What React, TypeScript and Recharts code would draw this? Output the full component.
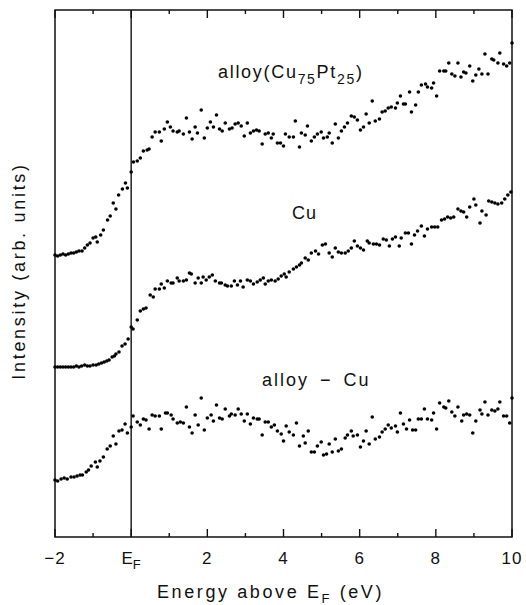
import React from 'react';
import { ScatterChart, Scatter, XAxis, YAxis, ReferenceLine, ReferenceArea } from 'recharts';

// photoemission-like spectra, energies in eV, intensities in arb. units
const alloyEnergy = [
  -2.0, -1.93, -1.86, -1.79, -1.72, -1.65, -1.58, -1.51, -1.44, -1.37, -1.29, -1.22, -1.15, -1.08, -1.0, -0.93, -0.89,
  -0.8, -0.73, -0.62, -0.55, -0.47, -0.4, -0.33, -0.23, -0.15, -0.1, 0.0, 0.06, 0.16, 0.24, 0.32, 0.42, 0.47, 0.55,
  0.63, 0.74, 0.79, 0.87, 0.95, 1.03, 1.1, 1.21, 1.26, 1.37, 1.45, 1.53, 1.6, 1.68, 1.74, 1.84, 1.92, 2.0, 2.08, 2.16,
  2.24, 2.32, 2.39, 2.47, 2.58, 2.65, 2.73, 2.81, 2.89, 2.97, 3.05, 3.13, 3.21, 3.29, 3.36, 3.44, 3.52, 3.6, 3.68,
  3.73, 3.84, 3.92, 4.0, 4.05, 4.15, 4.26, 4.31, 4.42, 4.47, 4.57, 4.63, 4.73, 4.81, 4.89, 4.99, 5.05, 5.15, 5.2,
  5.28, 5.36, 5.44, 5.52, 5.6, 5.68, 5.78, 5.86, 5.94, 6.02, 6.1, 6.17, 6.25, 6.33, 6.41, 6.52, 6.59, 6.67, 6.75,
  6.83, 6.94, 6.99, 7.07, 7.15, 7.2, 7.31, 7.36, 7.47, 7.54, 7.62, 7.73, 7.78, 7.89, 7.94, 8.02, 8.1, 8.21, 8.26,
  8.34, 8.42, 8.5, 8.58, 8.66, 8.73, 8.79, 8.89, 8.97, 9.05, 9.13, 9.21, 9.29, 9.37, 9.47, 9.52, 9.63, 9.68, 9.78,
  9.86, 9.94, 10.0,
];
const alloyIntensity = [
  282, 281, 282, 283, 282, 283, 284, 284, 285, 286, 286, 289, 292, 294, 299, 300, 295,
  302, 307, 317, 321, 334, 328, 342, 348, 354, 349, 365, 375, 376, 379, 386, 387, 388, 400,
  405, 405, 396, 408, 415, 410, 406, 405, 406, 403, 419, 405, 398, 410, 404, 427, 399, 409, 415, 410,
  422, 408, 406, 414, 408, 409, 413, 414, 411, 401, 414, 404, 406, 407, 406, 393, 403, 404, 399,
  403, 394, 394, 391, 403, 400, 400, 416, 390, 404, 402, 411, 396, 400, 403, 405, 399, 400, 404,
  394, 413, 399, 406, 410, 414, 421, 420, 417, 407, 410, 423, 414, 436, 416, 418, 425, 426, 429,
  430, 429, 434, 441, 433, 433, 445, 425, 432, 445, 452, 453, 450, 449, 454, 441, 466, 466, 466,
  474, 463, 461, 474, 460, 465, 464, 471, 456, 462, 468, 463, 483, 463, 478, 477, 474, 484, 473,
  471, 474, 494,
];

const cuEnergy = [
  -2.0, -1.93, -1.86, -1.79, -1.72, -1.65, -1.58, -1.51, -1.44, -1.37, -1.3, -1.22, -1.15, -1.08, -1.0, -0.92, -0.85,
  -0.78, -0.71, -0.64, -0.58, -0.5, -0.44, -0.4, -0.32, -0.24, -0.16, -0.08, 0.0, 0.05, 0.16, 0.24, 0.32, 0.39, 0.5,
  0.58, 0.63, 0.74, 0.79, 0.87, 0.95, 1.05, 1.1, 1.21, 1.26, 1.37, 1.45, 1.53, 1.58, 1.68, 1.76, 1.84, 1.89, 1.97,
  2.05, 2.13, 2.21, 2.32, 2.37, 2.47, 2.53, 2.63, 2.71, 2.79, 2.87, 2.94, 3.05, 3.13, 3.21, 3.31, 3.39, 3.47, 3.52,
  3.6, 3.68, 3.78, 3.86, 3.94, 4.02, 4.07, 4.15, 4.26, 4.34, 4.42, 4.47, 4.57, 4.65, 4.73, 4.84, 4.92, 5.02, 5.1,
  5.2, 5.28, 5.36, 5.44, 5.52, 5.62, 5.7, 5.78, 5.86, 5.94, 6.02, 6.1, 6.2, 6.25, 6.36, 6.44, 6.52, 6.62, 6.7, 6.78,
  6.86, 6.94, 7.04, 7.09, 7.2, 7.28, 7.36, 7.44, 7.52, 7.62, 7.7, 7.78, 7.89, 7.97, 8.05, 8.15, 8.23, 8.31, 8.39,
  8.47, 8.58, 8.66, 8.73, 8.81, 8.89, 9.0, 9.05, 9.16, 9.21, 9.32, 9.39, 9.47, 9.55, 9.63, 9.73, 9.81, 9.89, 9.97,
];
const cuIntensity = [
  170, 170, 170, 170, 170, 170, 170, 170, 171, 170, 171, 172, 171, 171, 172, 172, 173,
  174, 175, 176, 177, 180, 181, 183, 185, 191, 193, 198, 210, 208, 217, 226, 228, 229, 242,
  240, 248, 248, 253, 249, 256, 254, 254, 259, 256, 256, 257, 264, 263, 254, 259, 254, 260, 257,
  260, 262, 256, 254, 254, 252, 251, 251, 256, 252, 256, 250, 257, 256, 253, 255, 257, 259, 253,
  256, 257, 256, 258, 261, 263, 260, 265, 268, 270, 272, 274, 279, 277, 284, 286, 283, 292, 293,
  284, 280, 289, 285, 284, 284, 286, 289, 296, 291, 289, 287, 296, 294, 293, 293, 292, 298, 297, 291,
  298, 300, 291, 299, 304, 304, 293, 302, 306, 311, 301, 308, 310, 310, 310, 317, 318, 320, 319,
  320, 328, 326, 325, 320, 330, 338, 332, 314, 326, 322, 336, 335, 334, 333, 334, 338, 342, 345,
];

const diffEnergy = [
  -2.0, -1.93, -1.84, -1.76, -1.68, -1.58, -1.5, -1.42, -1.34, -1.28, -1.18, -1.12, -1.05, -0.94, -0.89, -0.82,
  -0.73, -0.63, -0.55, -0.47, -0.4, -0.32, -0.24, -0.16, -0.1, 0.0, 0.05, 0.16, 0.24, 0.32, 0.39, 0.47, 0.55, 0.63,
  0.74, 0.79, 0.9, 0.95, 1.05, 1.1, 1.21, 1.29, 1.37, 1.45, 1.53, 1.6, 1.68, 1.76, 1.84, 1.92, 2.0, 2.1, 2.16, 2.24,
  2.32, 2.39, 2.47, 2.58, 2.63, 2.73, 2.81, 2.89, 2.97, 3.05, 3.13, 3.21, 3.31, 3.36, 3.44, 3.52, 3.6, 3.68, 3.76,
  3.84, 3.94, 4.0, 4.07, 4.15, 4.26, 4.34, 4.42, 4.52, 4.57, 4.65, 4.73, 4.81, 4.89, 4.99, 5.05, 5.13, 5.2, 5.28,
  5.36, 5.44, 5.52, 5.62, 5.68, 5.78, 5.83, 5.94, 6.02, 6.1, 6.17, 6.25, 6.33, 6.41, 6.52, 6.59, 6.67, 6.75, 6.83,
  6.94, 6.99, 7.07, 7.15, 7.23, 7.31, 7.39, 7.47, 7.54, 7.62, 7.7, 7.78, 7.89, 7.94, 8.02, 8.1, 8.21, 8.26, 8.34,
  8.42, 8.5, 8.58, 8.68, 8.73, 8.81, 8.89, 8.97, 9.05, 9.16, 9.21, 9.29, 9.37, 9.47, 9.55, 9.63, 9.68, 9.78, 9.86,
  9.94, 10.0,
];
const diffIntensity = [
  57, 56, 58, 59, 58, 60, 60, 61, 62, 62, 65, 67, 71, 75, 70, 76,
  80, 88, 91, 101, 93, 106, 107, 113, 104, 110, 121, 115, 112, 118, 117, 108, 122, 121,
  121, 108, 124, 124, 122, 118, 114, 115, 114, 130, 110, 104, 122, 112, 139, 107, 119, 122, 116, 132,
  119, 118, 128, 121, 123, 122, 128, 123, 116, 123, 113, 119, 118, 118, 102, 115, 115, 110, 112,
  106, 103, 96, 111, 105, 102, 114, 91, 101, 94, 106, 85, 85, 91, 95, 82, 83, 93, 85,
  98, 86, 88, 99, 102, 106, 101, 102, 90, 96, 106, 93, 120, 98, 100, 105, 108, 112, 109,
  111, 105, 124, 113, 108, 117, 107, 107, 118, 118, 128, 118, 117, 124, 108, 134, 130, 129, 136,
  125, 121, 130, 116, 122, 123, 122, 104, 116, 127, 123, 135, 122, 127, 126, 128, 135, 121, 121,
  114, 139,
];

const xTicks = [-2, -1, 0, 1, 2, 3, 4, 5, 6, 7, 8, 9, 10];

const PLOT_H = 527;

const toPoints = (energy: number[], intensity: number[]) =>
  energy.map((e, i) => ({ e, v: intensity[i] }));

const FONT = '"Liberation Sans", Arial, sans-serif';
const INK = '#111';

const Dot = (p: any) => <circle cx={p.cx} cy={p.cy} r={1.8} fill="#000" />;

// inward ticks on bottom and mirrored on the top frame edge
const FrameTick = ({ x, y, payload }: any) => {
  const v = payload.value;
  const major = v % 2 === 0;
  const len = major ? 8 : 4;
  const top = y - PLOT_H;
  return (
    <g>
      <line x1={x} x2={x} y1={y} y2={y - len} stroke={INK} strokeWidth={1.4} />
      <line x1={x} x2={x} y1={top} y2={top + len} stroke={INK} strokeWidth={1.4} />
      {major && v === 0 && (
        <text x={x} y={y + 27} textAnchor="middle" fontSize={17} fontFamily={FONT} fill={INK}>
          E<tspan fontSize={13} dy={5}>F</tspan>
        </text>
      )}
      {major && v !== 0 && (
        <text x={x} y={y + 27} textAnchor="middle" fontSize={17} fontFamily={FONT} fill={INK} letterSpacing={1}>
          {v < 0 ? '\u2212' + Math.abs(v) : v}
        </text>
      )}
    </g>
  );
};

export default function App() {
  return (
    <div style={{ position: 'absolute', left: 0, top: 0, width: 526, height: 605, background: '#fff' }}>
      <ScatterChart width={526} height={605} margin={{ top: 10, right: 14, bottom: 0, left: 55 }}>
        <XAxis
          dataKey="e"
          type="number"
          domain={[-2, 10]}
          ticks={xTicks}
          height={68}
          axisLine={false}
          tickLine={false}
          tickSize={0}
          tickMargin={0}
          tick={<FrameTick />}
          interval={0}
        />
        <YAxis dataKey="v" type="number" domain={[0, PLOT_H]} hide />
        <ReferenceArea x1={-2} x2={10} y1={0} y2={PLOT_H} fill="none" stroke={INK} strokeWidth={1.5} ifOverflow="visible" />
        <ReferenceLine x={0} stroke={INK} strokeWidth={1.4} />
        <Scatter data={toPoints(alloyEnergy, alloyIntensity)} shape={Dot} isAnimationActive={false} />
        <Scatter data={toPoints(cuEnergy, cuIntensity)} shape={Dot} isAnimationActive={false} />
        <Scatter data={toPoints(diffEnergy, diffIntensity)} shape={Dot} isAnimationActive={false} />
      </ScatterChart>
      <svg width={526} height={605} style={{ position: 'absolute', left: 0, top: 0, pointerEvents: 'none' }}>
        <g fontFamily={FONT} fill={INK}>
          <text x={218} y={78} fontSize={18} letterSpacing={1.7}>
            alloy(Cu<tspan fontSize={14} dy={6}>75</tspan>
            <tspan dy={-6}>Pt</tspan>
            <tspan fontSize={14} dy={6}>25</tspan>
            <tspan dy={-6}>)</tspan>
          </text>
          <text x={292} y={219} fontSize={18} letterSpacing={1}>Cu</text>
          <text x={262} y={386} fontSize={18} letterSpacing={2}>alloy{'\u2002\u2212\u2002'}Cu</text>
          <text x={157} y={598} fontSize={18} letterSpacing={2.6}>
            Energy above E<tspan fontSize={13} dy={5}>F</tspan>
            <tspan dy={-5}> (eV)</tspan>
          </text>
          <text
            x={0}
            y={0}
            fontSize={18}
            letterSpacing={2.7}
            textAnchor="middle"
            transform="translate(25,271) rotate(-90)"
          >
            Intensity (arb. units)
          </text>
        </g>
      </svg>
    </div>
  );
}
